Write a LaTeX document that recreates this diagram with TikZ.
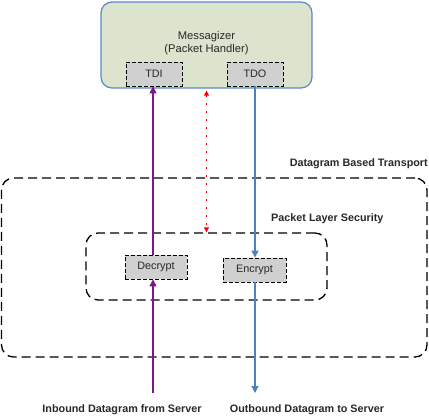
\documentclass[tikz,border=0pt]{standalone}
\usepackage{fontspec}
\setmainfont{Liberation Sans}
\usetikzlibrary{arrows.meta,positioning,calc}
\definecolor{msgfill}{RGB}{221,228,206}
\definecolor{msgline}{RGB}{90,138,198}
\definecolor{inline}{RGB}{128,20,140}
\definecolor{outline}{RGB}{79,129,189}
\definecolor{portfill}{RGB}{208,208,208}
\definecolor{txt}{RGB}{40,40,40}
\tikzset{
  msgnode/.style={rectangle,rounded corners=11pt,draw=msgline,line width=1.2pt,fill=msgfill,minimum width=211pt,minimum height=86pt,inner sep=0pt},
  portnode/.style={rectangle,draw,dashed,dash pattern=on 4pt off 2pt,line width=0.8pt,fill=portfill,minimum height=24pt,inner sep=0pt,text=txt,font=\fontsize{10.8}{12}\selectfont},
  layernode/.style={rectangle,rounded corners=12pt,draw,line width=1.3pt,dash pattern=on 9pt off 5pt,inner sep=0pt},
  lbl/.style={font=\bfseries\fontsize{10.8}{12}\selectfont,text=txt,inner sep=0pt},
  ine/.style={-{Triangle[length=7pt,width=7pt]},line width=1.2pt,draw=inline},
  oute/.style={-{Triangle[length=7pt,width=7pt]},line width=1.2pt,draw=outline},
  ctle/.style={{Triangle[length=5pt,width=5pt]}-{Triangle[length=5pt,width=5pt]},line width=1pt,red,dash pattern=on 1.3pt off 6.7pt}
}
\begin{document}
\begin{tikzpicture}[x=1pt,y=-1pt]
\useasboundingbox (0,0) rectangle (429,418);
\node[layernode,minimum width=425.5pt,minimum height=179pt] (dbt) at (214.25,267.5) {};
\node[layernode,minimum width=241pt,minimum height=67pt] (pls) at (206.5,266.5) {};
\node[lbl,anchor=east] (dbtl) at (428,164) {Datagram Based Transport};
\node[lbl,anchor=west] (plsl) at (271,219) {Packet Layer Security};
\node[msgnode] (msg) at (206.5,45) {};
\node[align=center,text=txt,font=\fontsize{11.2}{13.5}\selectfont] (msgl) at (206.5,43) {Messagizer\\(Packet Handler)};
\node[portnode,minimum width=56pt] (tdi) at (154,74) {TDI};
\node[portnode,minimum width=56pt] (tdo) at (255,74) {TDO};
\node[portnode,minimum width=62pt] (dec) at (156,267) {Decrypt};
\node[portnode,minimum width=63pt] (enc) at (254.5,270) {Encrypt};
\coordinate (inb) at (153,393);
\coordinate (outb) at (255,393);
\draw[ine] (inb) -- (inb |- dec.south);
\draw[ine] (inb |- dec.north) -- (inb |- tdi.south);
\draw[oute] (outb |- tdo.south) -- (outb |- enc.north);
\draw[oute] (outb |- enc.south) -- (outb);
\draw[ctle] ($(msg.south)+(0,2)$) -- (msg.south |- pls.north);
\node[lbl] (inl) at (122,410) {Inbound Datagram from Server};
\node[lbl] (outl) at (307,410) {Outbound Datagram to Server};
\end{tikzpicture}
\end{document}
